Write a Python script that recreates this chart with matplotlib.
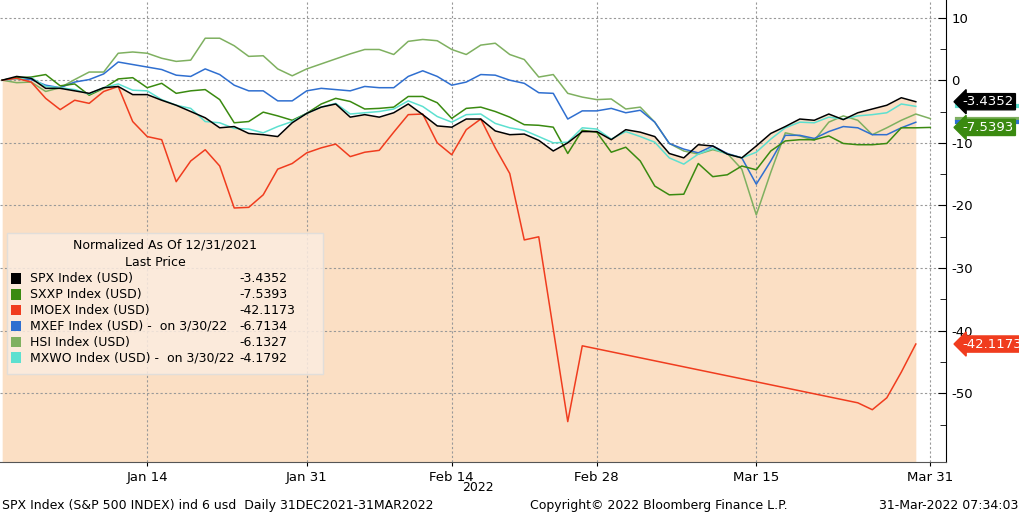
import numpy as np
import matplotlib.pyplot as plt
from matplotlib.patches import Rectangle

# weekday index 0 = 31 Dec 2021
spx = [0, 0.6, 0.3, -1.3, -1.3, -1.7, -2.1, -1.2, -1.0, -2.3, -2.3, -3.2, -4.0, -5.0, -6.0, -7.6, -7.4,
       -8.5, -8.7, -9.0, -6.8, -5.3, -4.3, -3.8, -5.9, -5.5, -5.9, -5.2, -3.8, -5.5, -7.3, -7.5, -6.2,
       -6.2, -8.1, -8.7, -8.6, -9.6, -11.3, -10.0, -8.2, -8.2, -9.5, -7.9, -8.3, -9.0, -11.7, -12.4,
       -10.3, -10.5, -11.8, -12.4, -10.5, -8.5, -7.4, -6.2, -6.4, -5.4, -6.3, -5.2, -4.6, -4.0, -2.8, -3.4352]
sxxp = [0, 0.4, 0.5, 0.9, -0.9, -0.6, -2.4, -1.3, 0.2, 0.4, -1.2, -0.5, -2.1, -1.7, -1.5, -3.1, -6.8,
        -6.6, -5.1, -5.7, -6.4, -5.3, -3.8, -2.9, -3.4, -4.6, -4.5, -4.3, -2.6, -2.6, -3.6, -6.1, -4.5,
        -4.3, -5.0, -5.9, -7.1, -7.2, -7.5, -11.7, -8.0, -8.3, -11.5, -10.7, -12.9, -16.9, -18.3, -18.2,
        -13.3, -15.4, -15.1, -13.7, -14.3, -11.3, -9.7, -9.5, -9.5, -8.9, -10.1, -10.3, -10.3, -10.1,
        -7.6, -7.6, -7.5393]
imoex = [0, 0.3, -0.3, -2.9, -4.7, -3.2, -3.7, -1.8, -1.0, -6.6, -9.0, -9.5, -16.2, -12.9, -11.1, -13.7,
         -20.4, -20.3, -18.3, -14.2, -13.3, -11.6, -10.8, -10.2, -12.2, -11.5, -11.2, -8.3, -5.5, -5.4,
         -10.0, -11.9, -7.9, -6.2, -10.8, -14.9, -25.5, -25.0, np.nan, -54.5, -42.4] + [np.nan] * 18 + \
        [-51.5, -52.6, -50.7, -46.6, -42.1173]
mxef = [0, 0.3, 0.1, -0.8, -1.2, -0.3, 0.1, 1.0, 2.9, 2.5, 2.1, 1.7, 0.8, 0.6, 1.8, 0.9, -0.8, -1.7,
        -1.7, -3.3, -3.3, -1.7, -1.3, -1.5, -1.7, -1.0, -1.2, -1.2, 0.6, 1.5, 0.6, -0.8, -0.3, 0.9, 0.8,
        0.0, -0.5, -2.0, -2.1, -6.2, -4.9, -4.9, -4.5, -5.2, -4.8, -6.7, -10.1, -11.0, -11.6, -10.5,
        -11.7, -12.4, -16.6, -12.9, -8.8, -8.8, -9.3, -8.2, -7.4, -7.6, -8.7, -8.7, -7.6, -6.7134]
hsi = [0, -0.4, -0.3, -1.8, -1.2, 0.1, 1.3, 1.3, 4.3, 4.5, 4.3, 3.5, 3.0, 3.2, 6.7, 6.7, 5.5, 3.8, 3.9,
       1.8, 0.7, 1.8, 2.6, 3.4, 4.2, 4.9, 4.9, 4.1, 6.2, 6.5, 6.3, 4.9, 4.1, 5.6, 5.9, 4.1, 3.3, 0.5, 0.9,
       -2.1, -2.7, -3.1, -3.0, -4.6, -4.3, -6.7, -10.1, -11.3, -11.8, -11.1, -11.7, -14.2, -21.5, -14.7,
       -8.4, -8.9, -9.6, -6.7, -5.7, -6.4, -8.7, -7.6, -6.4, -5.4, -6.1327]
mxwo = [0, 0.2, 0.4, -1.0, -1.2, -1.5, -2.2, -1.2, -0.6, -1.6, -1.7, -3.1, -4.0, -4.5, -6.6, -6.8, -7.7,
        -7.8, -8.4, -7.4, -6.6, -5.3, -4.3, -3.7, -5.4, -5.2, -5.0, -4.6, -3.3, -4.2, -5.8, -6.7, -5.5,
        -5.4, -6.9, -7.6, -8.0, -9.0, -10.0, -9.9, -7.6, -7.8, -9.4, -8.2, -9.0, -9.9, -12.4, -13.4,
        -11.8, -10.9, -11.8, -12.4, -11.5, -9.4, -7.6, -6.7, -6.8, -5.9, -6.2, -5.7, -5.5, -5.2, -3.8, -4.1792]

tick_pos = [10, 21, 31, 41, 52, 64]
tick_lbl = ["Jan 14", "Jan 31", "Feb 14", "Feb 28", "Mar 15", "Mar 31"]

legend_rows = [("SPX Index (USD)", "-3.4352", "black"),
               ("SXXP Index (USD)", "-7.5393", "#3a8a10"),
               ("IMOEX Index (USD)", "-42.1173", "#f03c1e"),
               ("MXEF Index (USD) -  on 3/30/22", "-6.7134", "#2f6fd0"),
               ("HSI Index (USD)", "-6.1327", "#7fb060"),
               ("MXWO Index (USD) -  on 3/30/22", "-4.1792", "#5de0d0")]

fig = plt.figure(figsize=(10.2, 5.13), dpi=100)
ax = fig.add_axes([0, 0.1, 0.927, 0.9])
ymin = -60.9
ax.set_xlim(-0.15, 65.05)
ax.set_ylim(ymin, 12.8)

def draw(vals, color, lw=1.1):
    v = np.array(vals, dtype=float)
    x = np.arange(len(v))
    m = ~np.isnan(v)
    ax.plot(x[m], v[m], color=color, lw=lw, zorder=3)

ax.fill_between(np.arange(len(spx)), spx, ymin, color="#fbdfc4", lw=0, zorder=1)
draw(hsi, "#7fb060")
draw(mxef, "#2f6fd0")
draw(sxxp, "#3a8a10")
draw(mxwo, "#5de0d0")
draw(imoex, "#f03c1e")
draw(spx, "black")

ax.set_xticks(tick_pos)
ax.set_xticklabels(tick_lbl, fontsize=9.5)
ax.yaxis.tick_right()
ax.set_yticks([10, 0, -10, -20, -30, -40, -50])
ax.set_yticklabels(["10", "0", "-10", "-20", "-30", "-40", "-50"], fontsize=9.5)
ax.set_yticks(np.arange(-55, 12, 5), minor=True)
ax.tick_params(axis="y", direction="in", length=6, pad=4)
ax.tick_params(axis="y", which="minor", direction="in", length=4)
ax.tick_params(axis="x", length=3)
ax.grid(True, ls=(0, (2, 2)), color="#999999", lw=0.8, zorder=0)
for s in ["top", "left"]:
    ax.spines[s].set_visible(False)
ax.spines["bottom"].set_color("#555555")

# small blue / cyan bars under the tags
for val, col in [(-6.1327, "#7fb060"), (-6.7134, "#2f6fd0"), (-4.1792, "#5de0d0")]:
    ax.plot([1.012, 1.1], [val, val], transform=ax.get_yaxis_transform(), color=col, lw=3,
            clip_on=False, zorder=4)

# right-side last value tags
for val, txt, col in [(-3.4352, "-3.4352", "black"), (-7.5393, "-7.5393", "#3a8a10"),
                      (-42.1173, "-42.1173", "#f03c1e")]:
    ax.annotate(txt, xy=(1.0, val), xycoords=("axes fraction", "data"), xytext=(1.018, val),
                textcoords=("axes fraction", "data"), va="center", ha="left", fontsize=9.5, color="white",
                bbox=dict(boxstyle="larrow,pad=0.12", fc=col, ec=col), annotation_clip=False, zorder=5)

# legend box
lx, ly, lw_, lh = 0.007, 0.27, 0.31, 0.275
fig.patches.append(Rectangle((lx, ly), lw_, lh, transform=fig.transFigure, fc="#fbece0",
                             ec="#dddddd", alpha=0.85, zorder=5))
fig.text(lx + 0.155, ly + lh - 0.03, "Normalized As Of 12/31/2021", ha="center", fontsize=9, zorder=6)
fig.text(lx + 0.145, ly + lh - 0.063, "Last Price", ha="center", fontsize=9, zorder=6)
for k, (name, val, col) in enumerate(legend_rows):
    yy = ly + lh - 0.095 - k * 0.031
    fig.patches.append(Rectangle((lx + 0.004, yy - 0.003), 0.01, 0.021, transform=fig.transFigure,
                                 fc=col, ec="none", zorder=6))
    fig.text(lx + 0.022, yy, name, fontsize=9, zorder=6)
    fig.text(lx + 0.228, yy, val, fontsize=9, zorder=6)

fig.text(0.469, 0.042, "2022", ha="center", fontsize=9)
fig.text(0.002, 0.008, "SPX Index (S&P 500 INDEX) ind 6 usd  Daily 31DEC2021-31MAR2022", fontsize=9)
fig.text(0.52, 0.008, "Copyright\u00a9 2022 Bloomberg Finance L.P.", fontsize=9)
fig.text(0.998, 0.008, "31-Mar-2022 07:34:03", ha="right", fontsize=9)

fig.savefig("out.png", dpi=100)
